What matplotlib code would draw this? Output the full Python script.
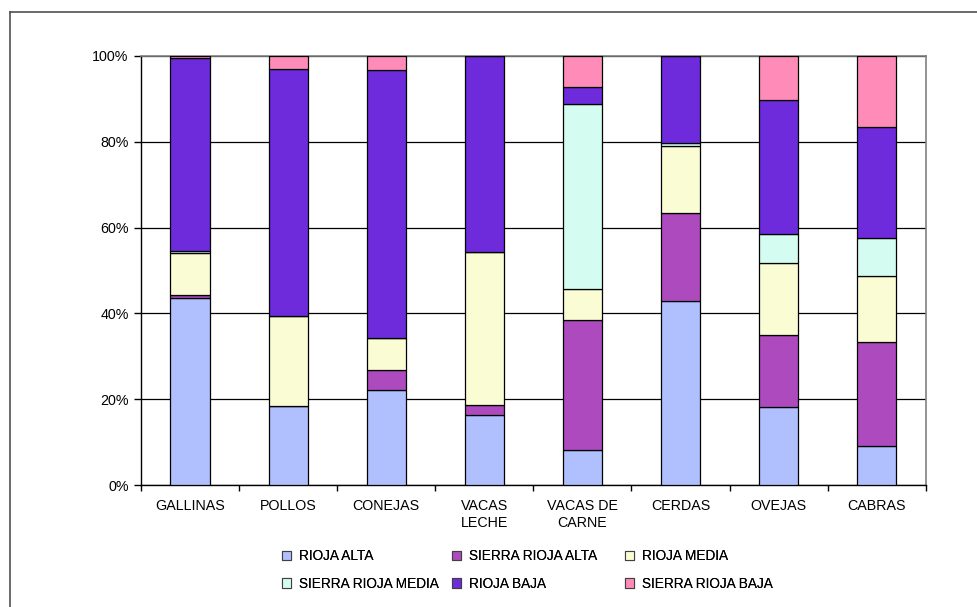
import matplotlib.pyplot as plt
import numpy as np
from matplotlib.lines import Line2D
from matplotlib.patches import Patch

plt.rcParams['font.family'] = ['Liberation Sans', 'DejaVu Sans']

# share of each zone per livestock type (%)
categorias = ['GALLINAS', 'POLLOS', 'CONEJAS', 'VACAS\nLECHE', 'VACAS DE\nCARNE',
              'CERDAS', 'OVEJAS', 'CABRAS']
rioja_alta         = [43.6, 18.4, 22.1, 16.4,  8.2, 43.0, 18.3,  9.1]
sierra_rioja_alta  = [ 0.6,  0.0,  4.7,  2.2, 30.3, 20.5, 16.8, 24.3]
rioja_media        = [ 9.9, 21.0,  7.5, 35.7,  7.3, 15.5, 16.6, 15.3]
sierra_rioja_media = [ 0.5,  0.0,  0.0,  0.0, 43.0,  0.6,  6.8,  8.9]
rioja_baja         = [44.9, 57.5, 62.4, 45.7,  4.0, 20.4, 31.2, 25.8]
sierra_rioja_baja  = [ 0.5,  3.1,  3.3,  0.0,  7.2,  0.0, 10.3, 16.6]

series = [rioja_alta, sierra_rioja_alta, rioja_media,
          sierra_rioja_media, rioja_baja, sierra_rioja_baja]
nombres = ['RIOJA ALTA', 'SIERRA RIOJA ALTA', 'RIOJA MEDIA',
           'SIERRA RIOJA MEDIA', 'RIOJA BAJA', 'SIERRA RIOJA BAJA']
colores = ['#B0BFFD', '#AD4ABD', '#FAFCD4', '#D4FCF0', '#6D2BDC', '#FF8CB8']

fs = 10.3
fig = plt.figure(figsize=(9.78, 6.07), dpi=100)
ax = fig.add_axes([0.1442, 0.2005, 0.8023, 0.7077])

x = np.arange(len(categorias))
base = np.zeros(len(categorias))
for vals, nom, col in zip(series, nombres, colores):
    v = np.array(vals)
    ax.bar(x, v, width=0.4, bottom=base, color=col, edgecolor='black',
           linewidth=0.9, label=nom, zorder=3)
    base += v

ax.set_xlim(-0.5, len(categorias) - 0.5)
ax.set_ylim(0, 100)
ax.set_yticks(np.arange(0, 101, 20))
ax.set_yticklabels([f'{t}%' for t in range(0, 101, 20)], fontsize=fs)
ax.yaxis.grid(True, color='black', linewidth=0.9, zorder=0)

# category ticks sit on the boundaries, labels centred
ax.set_xticks(np.arange(-0.5, len(categorias), 1.0))
ax.set_xticklabels([])
ax.set_xticks(x, minor=True)
ax.set_xticklabels(categorias, minor=True, fontsize=fs, linespacing=1.25)
ax.tick_params(axis='x', which='minor', length=0, pad=10)
ax.tick_params(axis='x', which='major', length=4, width=1, direction='out')
ax.tick_params(axis='y', length=5, width=1, direction='out', pad=4)

for s in ['left', 'bottom']:
    ax.spines[s].set_color('black')
    ax.spines[s].set_linewidth(1)
for s in ['right', 'top']:
    ax.spines[s].set_color('#808080')
    ax.spines[s].set_linewidth(1.2)

# legend: three columns of two entries, row-wise order as in the original
handles = [Patch(facecolor=c, edgecolor='#404040', linewidth=0.8) for c in colores]
col_x = [282, 452, 625]
for j, cx in enumerate(col_x):
    idx = [j, j + 3]
    leg = fig.legend([handles[i] for i in idx], [nombres[i] for i in idx],
                     loc='center left', bbox_to_anchor=(cx / 978, 1 - 570 / 607),
                     frameon=False, fontsize=9.8, handlelength=0.68, handleheight=0.68,
                     handletextpad=0.6, labelspacing=1.0, borderpad=0, borderaxespad=0)
    fig.add_artist(leg)

# outer chart frame (left and top edges visible)
fig.add_artist(Line2D([9.5 / 978, 9.5 / 978], [0, 1 - 11.5 / 607],
                      transform=fig.transFigure, color='#505050', linewidth=1.2))
fig.add_artist(Line2D([9.5 / 978, 1], [1 - 11.5 / 607, 1 - 11.5 / 607],
                      transform=fig.transFigure, color='#505050', linewidth=1.2))

fig.savefig('out.png', dpi=100)
